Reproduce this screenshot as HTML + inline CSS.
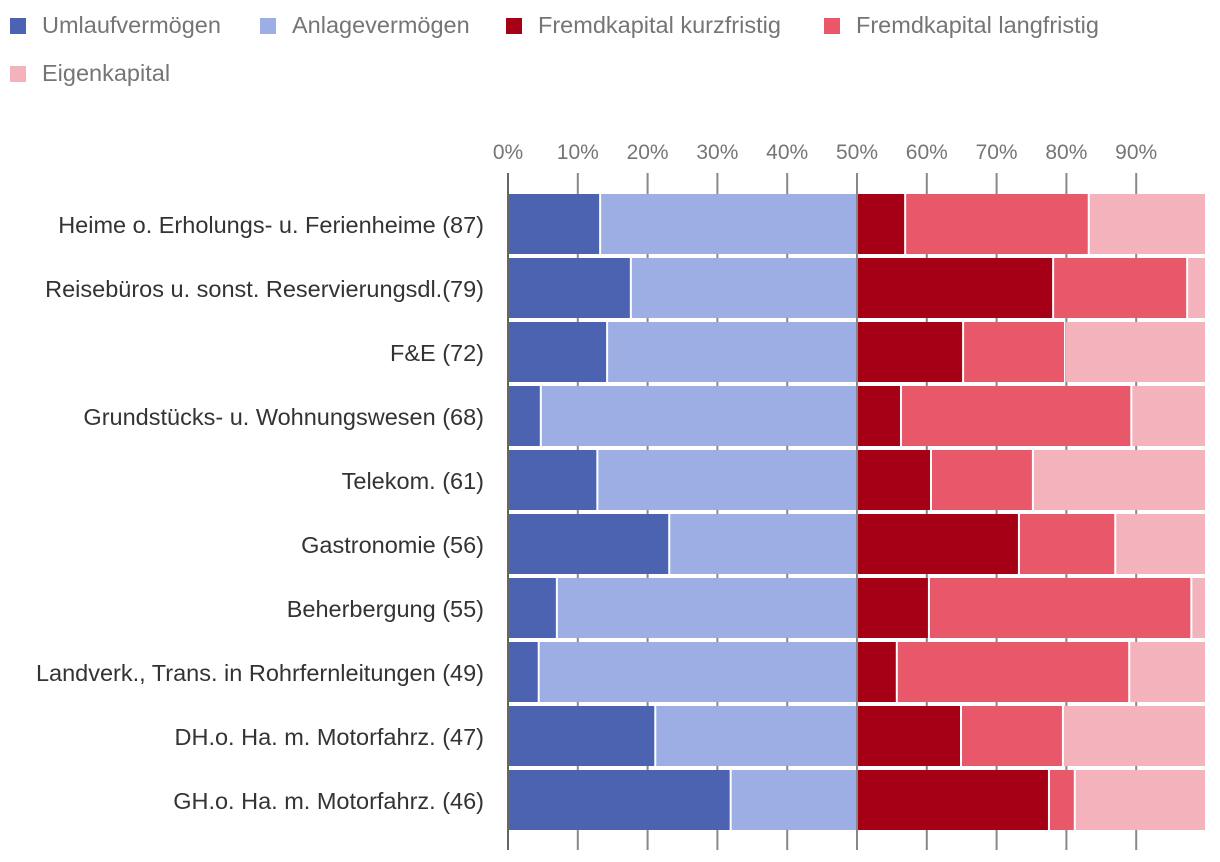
<!DOCTYPE html>
<html><head><meta charset="utf-8"><style>
body{margin:0;background:#fff;font-family:"Liberation Sans",sans-serif;}
.leg{position:absolute;font-size:23.5px;color:#757575;white-space:nowrap}
.leg span{display:inline-block;width:16px;height:16px;vertical-align:-1px;margin-right:16px}
</style></head><body>
<div style="position:relative;width:1220px;height:862px">
<div class="leg" style="left:10px;top:12px"><span style="background:#4b63b0"></span>Umlaufvermögen</div>
<div class="leg" style="left:260px;top:12px"><span style="background:#9caee4"></span>Anlagevermögen</div>
<div class="leg" style="left:506px;top:12px"><span style="background:#a50015"></span>Fremdkapital kurzfristig</div>
<div class="leg" style="left:824px;top:12px"><span style="background:#e8586a"></span>Fremdkapital langfristig</div>
<div class="leg" style="left:10px;top:60px"><span style="background:#f4b3bc"></span>Eigenkapital</div>
<svg id="svg" width="1220" height="862" style="position:absolute;left:0;top:0"></svg>
</div>
<script>
const categories=["Heime o. Erholungs- u. Ferienheime (87)","Reisebüros u. sonst. Reservierungsdl.(79)","F&E (72)","Grundstücks- u. Wohnungswesen (68)","Telekom. (61)","Gastronomie (56)","Beherbergung (55)","Landverk., Trans. in Rohrfernleitungen (49)","DH.o. Ha. m. Motorfahrz. (47)","GH.o. Ha. m. Motorfahrz. (46)"];
const umlauf=[13.2,17.6,14.2,4.7,12.8,23.1,7.0,4.4,21.1,31.9];
const anlage=[36.8,32.4,35.8,45.3,37.2,26.9,43.0,45.6,28.9,18.1];
const fkKurz=[6.9,28.1,15.2,6.3,10.6,23.2,10.3,5.7,14.9,27.5];
const fkLang=[26.3,19.2,14.6,33.0,14.6,13.8,37.6,33.3,14.6,3.7];
const eigen=[16.8,2.7,20.2,10.7,24.8,13.0,2.1,11.0,20.5,18.8];
const ticks=[0,10,20,30,40,50,60,70,80,90];
const seriesNames=["umlauf","anlage","fk-kurz","fk-lang","eigen"];
const colors=["#4b63b0","#9caee4","#a50015","#e8586a","#f4b3bc"];
const NS="http://www.w3.org/2000/svg",svg=document.getElementById('svg');
const x=v=>508+v*6.98;
const y=i=>194+i*64;
function mk(t,a){const e=document.createElementNS(NS,t);for(const k in a)e.setAttribute(k,a[k]);svg.appendChild(e);return e;}
ticks.forEach(t=>{
  const l=mk('line',{x1:x(t),x2:x(t),y1:173,y2:850,stroke:t===0?'#666':'#888','stroke-width':2});
  
  
  const tx=mk('text',{x:x(t),y:159,'text-anchor':'middle','font-size':21,fill:'#757575','font-family':'Liberation Sans, sans-serif'});
  tx.textContent=t+'%';
  
  
});
const data=[umlauf,anlage,fkKurz,fkLang,eigen];
categories.forEach((c,i)=>{
  const lb=mk('text',{x:484,y:y(i)+39,'text-anchor':'end','font-size':23.5,fill:'#333','font-family':'Liberation Sans, sans-serif'});
  lb.textContent=c;
  
  
  let acc=0;
  data.forEach((s,j)=>{
    const r=mk('rect',{x:x(acc)+1,y:y(i),width:Math.max(0,s[i]*6.98-2),height:60,fill:colors[j]});
    
    
    acc+=s[i];
  });
});
</script>
</body></html>
